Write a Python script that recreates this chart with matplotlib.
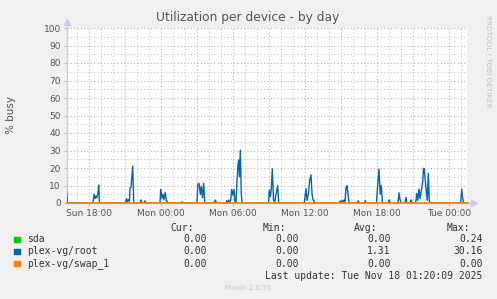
import matplotlib
matplotlib.use("Agg")
import matplotlib.pyplot as plt
from matplotlib.ticker import MultipleLocator, FixedLocator
import numpy as np

# -------------------------------
# Data (5-minute samples, index counted from the left edge of the graph)
# -------------------------------
start_hour = 16.1          # Sun 16:06, left edge of the graph
n_samples = 401

root_idx = [0, 1,
            26.5, 27.5, 28.5, 29.5, 30.5, 31.5, 32.2, 33,
            59, 60, 61, 62, 63, 63.5, 64.5, 66.2, 67.2,
            73.5, 74.5, 75.5, 77.5, 78.5, 79.5,
            93.5, 94.2, 95.5, 96.5, 97.5, 98.8, 99.8, 100.8, 101.5,
            114.5, 115.5, 116.5,
            130.5, 131.2, 132.5, 133.8, 134.8, 136, 137.2, 138.2, 139,
            147.5, 148.8, 150,
            159.5, 160.2, 161.2, 162.2, 163.2, 164.2, 165.2, 166.5, 167.5, 168.5,
            169.5, 170.5, 171.5, 172.2, 173, 173.8, 174.8, 175.5, 176.5,
            202, 202.8, 203.8, 204.8, 205.8, 207, 208.2, 209.5, 211.2, 212.2,
            237.8, 239.5, 240.5, 242, 243.2, 244.5, 245.5, 246.5, 247.5, 248.2,
            272.5, 273.5, 274.5, 275.8, 276.8, 277.8, 278.5, 279.5, 280.5, 281.5, 282.5,
            290.8, 291.8, 292.8,
            297.8, 298.8, 299.8,
            310, 311, 312.5, 313.7, 314.8, 316,
            321.5, 322.7, 323.8,
            331.5, 332.5, 333.5, 334.5,
            338.5, 339.5, 340.5,
            343.5, 344.5, 345.5, 346.5,
            349.2, 350.2, 351.2, 352.5, 353.5, 355.2, 356.2, 357, 357.8, 358.8,
            359.8, 360.8, 361.8, 362.8, 363.8,
            394.2, 395.2, 396.2, 397.2,
            401]
root_val = [6.5, 0,
            0, 5, 2.5, 4, 3, 6, 10.3, 0,
            0, 2.5, 0.5, 2, 1, 8.5, 9, 21.1, 0,
            0, 1.7, 0, 0, 1.2, 0,
            0, 7.8, 2.7, 5, 2, 6.1, 1.2, 1.1, 0,
            0, 0.7, 0,
            0, 10.5, 11.2, 5, 9.5, 3, 11.2, 0.5, 0,
            0, 1.7, 0,
            0, 1.3, 0.3, 1.7, 0.5, 1.5, 7.8, 4.5, 7.8, 0,
            0, 13, 21.7, 24.6, 15, 30.16, 5, 0.8, 0,
            0, 7.4, 3.6, 8, 19.6, 1.7, 0.6, 5, 10, 0,
            0, 8.4, 1.5, 5.5, 13, 16, 5.5, 1.7, 1.3, 0,
            0, 1.1, 0.5, 1.5, 0.6, 1.7, 1, 8.4, 9.9, 5, 0,
            0, 1.2, 0,
            0, 1.3, 0,
            0, 9, 19.4, 5, 10, 0,
            0, 1.7, 0,
            0, 5.8, 2, 0,
            0, 3.2, 0,
            0, 1.7, 0.5, 0,
            0, 5.5, 1.5, 8, 2.5, 8.5, 12, 19.8, 19.5, 12.5,
            7, 1.5, 16.8, 1.5, 0,
            0, 8, 2.7, 0,
            0]

sda_idx = [0, 401]
sda_val = [0, 0]
swap_idx = [0, 401]
swap_val = [0, 0]

series_names = ['sda', 'plex-vg/root', 'plex-vg/swap_1']
series_colors = ['#00CC00', '#0066B3', '#FF8000']
cur_vals = ['0.00', '0.00', '0.00']
min_vals = ['0.00', '0.00', '0.00']
avg_vals = ['0.00', '1.31', '0.00']
max_vals = ['0.24', '30.16', '0.00']

tick_hours = [18, 24, 30, 36, 42, 48]
tick_labels = ['Sun 18:00', 'Mon 00:00', 'Mon 06:00', 'Mon 12:00', 'Mon 18:00', 'Tue 00:00']

# -------------------------------
# Figure
# -------------------------------
W, H = 497, 299
fig = plt.figure(figsize=(W / 100, H / 100), dpi=100, facecolor='#F0F0F0')
ax = fig.add_axes([66.5 / W, 1 - 203 / H, 401 / W, 175 / H], facecolor='white')

def to_hours(idx):
    return start_hour + np.asarray(idx, dtype=float) / 12.0

x_end = start_hour + n_samples / 12.0
ax.set_xlim(start_hour, x_end)
ax.set_ylim(0, 100)

# grid
minor_col = '#C8C8C8'
major_col = '#E3A5A5'
dots = (0, (1, 2))
for h in np.arange(17, x_end, 1):
    ax.axvline(h, color=major_col if h % 3 == 0 else minor_col, lw=0.8, ls=dots, zorder=1)
for v in np.arange(5, 101, 5):
    ax.axhline(v, color=major_col if v % 10 == 0 else minor_col, lw=0.8, ls=dots, zorder=1)

# series
ax.plot(to_hours(sda_idx), sda_val, color=series_colors[0], lw=1, zorder=3)
ax.plot(to_hours(root_idx), root_val, color=series_colors[1], lw=1, zorder=4)
ax.plot(to_hours(swap_idx), swap_val, color=series_colors[2], lw=1.2, zorder=5, clip_on=False)

# axes styling
for s in ax.spines.values():
    s.set_visible(False)
axis_col = '#C8C8F0'
ax.plot([0, 0], [0, 1.035], transform=ax.transAxes, color=axis_col, lw=1, clip_on=False, zorder=2)
ax.plot([0, 1.015], [0, 0], transform=ax.transAxes, color=axis_col, lw=1, clip_on=False, zorder=2)
ax.plot([0], [1.035], marker='^', ms=4, color=axis_col, transform=ax.transAxes, clip_on=False)
ax.plot([1.015], [0], marker='>', ms=4, color=axis_col, transform=ax.transAxes, clip_on=False)

ax.xaxis.set_major_locator(FixedLocator(tick_hours))
ax.set_xticklabels(tick_labels)
ax.yaxis.set_major_locator(MultipleLocator(10))
ax.tick_params(axis='both', length=2, width=0.8, color=major_col, labelsize=6.5,
               labelcolor='#555555', pad=2)

ax.set_ylabel('% busy', fontsize=7.5, color='#555555')
ax.yaxis.set_label_coords(-0.127, 0.5)

fig.text(248 / W, 1 - 18 / H, 'Utilization per device - by day', ha='center', va='center',
         fontsize=8.8, color='#555555')
fig.text(488 / W, 1 - 61 / H, 'RRDTOOL / TOBI OETIKER', rotation=270, ha='center', va='center',
         fontsize=5.2, color='#C0C0C0')

# -------------------------------
# Legend block
# -------------------------------
mono = dict(family='DejaVu Sans Mono', fontsize=7, color='#333333', va='center')
header_y = 228.3
row_y = [239.3, 251.3, 263.7]
for txt, xr in zip(['Cur:', 'Min:', 'Avg:', 'Max:'], [194.3, 286, 377.7, 470]):
    fig.text(xr / W, 1 - header_y / H, txt, ha='right', **mono)
for i, name in enumerate(series_names):
    y = 1 - row_y[i] / H
    fig.patches.append(plt.Rectangle((14 / W, y - 2.7 / H), 5.5 / W, 5.5 / H,
                                     transform=fig.transFigure, color=series_colors[i]))
    fig.text(26.7 / W, y, name, ha='left', **mono)
    for val, xr in zip([cur_vals[i], min_vals[i], avg_vals[i], max_vals[i]], [207, 299, 390.7, 482.7]):
        fig.text(xr / W, y, val, ha='right', **mono)

fig.text(482.7 / W, 1 - 276 / H, 'Last update: Tue Nov 18 01:20:09 2025', ha='right', **mono)
fig.text(247.7 / W, 1 - 287.7 / H, 'Munin 2.0.75', ha='center', va='center', fontsize=5,
         color='#C8C8C8')

fig.savefig('out.png', dpi=100, facecolor=fig.get_facecolor())
